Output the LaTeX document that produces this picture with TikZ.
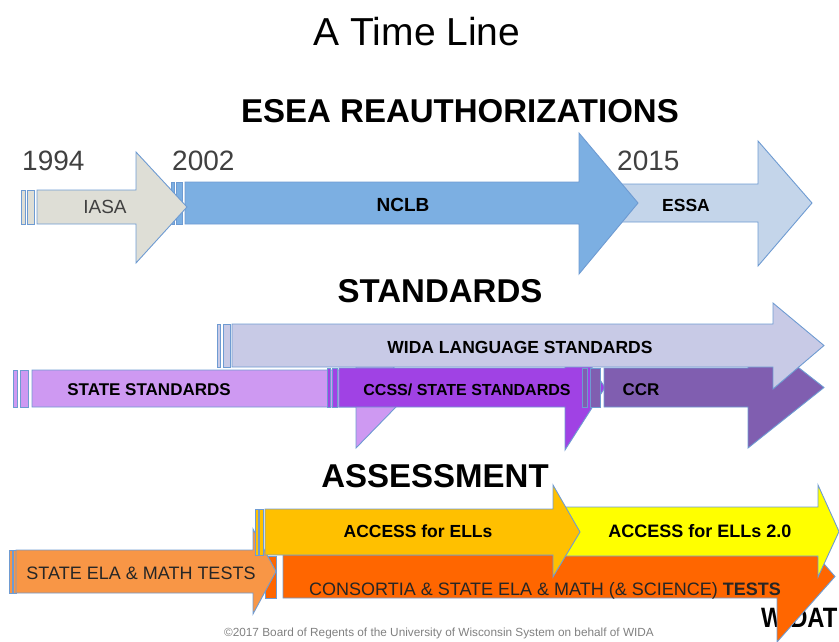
\documentclass[tikz,border=0pt]{standalone}
\usepackage{fontspec}
\setmainfont{Liberation Sans}
\begin{document}
\definecolor{edgeblue}{RGB}{110,155,210}
\definecolor{iasa}{RGB}{222,222,214}
\definecolor{nclb}{RGB}{124,175,226}
\definecolor{essa}{RGB}{196,213,234}
\definecolor{wida}{RGB}{200,202,230}
\definecolor{statestd}{RGB}{206,153,242}
\definecolor{ccss}{RGB}{160,66,228}
\definecolor{ccr}{RGB}{128,94,176}
\definecolor{stateela}{RGB}{248,150,70}
\definecolor{consortia}{RGB}{255,102,0}
\definecolor{access}{RGB}{255,192,0}
\definecolor{accesstwo}{RGB}{255,255,0}
\definecolor{yeargray}{RGB}{64,64,64}
\definecolor{notegray}{RGB}{128,128,128}
% block arrow: fill, shaft start x, head start x, tip x,
% shaft top y, shaft bottom y, head top y, head bottom y
\newcommand\blockarrow[8]{%
  \path[arrowshape, fill=#1] (#2,#5) -- (#3,#5) -- (#3,#7) -- (#4,{(#5+#6)/2})
    -- (#3,#8) -- (#3,#6) -- (#2,#6) -- cycle;}
% thin start marker: fill, left x, right x, top y, bottom y
\newcommand\startbar[5]{%
  \path[arrowshape, fill=#1] (#2,#4) rectangle (#3,#5);}
\begin{tikzpicture}[x=1pt, y=-1pt,
  arrowshape/.style={draw=edgeblue, line width=0.9pt, line join=miter},
  heading/.style={font=\fontsize{33}{40}\selectfont\bfseries, anchor=base, inner sep=0pt},
  year/.style={font=\fontsize{28}{34}\selectfont, text=yeargray, anchor=base west, inner sep=0pt},
  lbl/.style={font=\fontsize{17.5}{21}\selectfont\bfseries, anchor=base, inner sep=0pt},
  plainlbl/.style={font=\fontsize{18}{22}\selectfont, anchor=base, inner sep=0pt, text=black!85}]
\useasboundingbox (0,0) rectangle (839,641);
\clip (0,0) rectangle (839,641);

% titles
\node[anchor=base, inner sep=0pt, font=\fontsize{39}{47}\selectfont] (title) at (417,45) {A Time Line};
\node[heading] (esea) at (460,122) {ESEA REAUTHORIZATIONS};
\node[heading] (std) at (440,302) {STANDARDS};
\node[heading] (assess) at (435,487) {ASSESSMENT};

% years
\node[year] (y1994) at (22,170) {1994};
\node[year] (y2002) at (172,170) {2002};
\node[year] (y2015) at (617,170) {2015};

% ESEA reauthorizations
\blockarrow{essa}{600}{758}{812}{184}{222}{141}{266}
\startbar{nclb}{171}{174}{182}{224}
\startbar{nclb}{176}{182}{182}{224}
\blockarrow{nclb}{185}{579}{638}{182}{224}{133}{274}
\startbar{iasa}{21}{25}{190}{224}
\startbar{iasa}{27}{34}{190}{224}
\blockarrow{iasa}{37}{136}{187}{190}{224}{152}{263}
\node[plainlbl, font=\fontsize{19}{23}\selectfont, text=yeargray] (liasa) at (105,213) {IASA};
\node[lbl, font=\fontsize{19}{23}\selectfont\bfseries] (lnclb) at (403,211) {NCLB};
\node[lbl] (lessa) at (686,211) {ESSA};

% standards
\startbar{statestd}{13}{17}{370}{407}
\startbar{statestd}{20}{28}{370}{407}
\blockarrow{statestd}{32}{356}{414}{370}{407}{328}{448}
\startbar{ccss}{327}{330}{368}{407}
\startbar{ccss}{332}{337}{368}{407}
\blockarrow{ccss}{339}{565}{605}{368}{407}{326}{450}
\startbar{ccr}{582}{587}{368}{407}
\startbar{ccr}{590}{600}{368}{407}
\blockarrow{ccr}{604}{748}{824}{368}{407}{328}{448}
\startbar{wida}{217}{220}{324}{367}
\startbar{wida}{223}{230}{324}{367}
\blockarrow{wida}{232}{773}{824}{324}{367}{303}{389}
\node[lbl] (lwida) at (520,353) {WIDA LANGUAGE STANDARDS};
\node[lbl, font=\fontsize{17}{21}\selectfont\bfseries] (lstate) at (149,395) {STATE STANDARDS};
\node[lbl, font=\fontsize{16}{20}\selectfont\bfseries] (lccss) at (467,395) {CCSS/ STATE STANDARDS};
\node[lbl, font=\fontsize{17}{21}\selectfont\bfseries] (lccr) at (641,395) {CCR};

% assessment
\node[anchor=base west, inner sep=0pt, font=\fontsize{28}{34}\selectfont\bfseries] (wdat) at (761,627)
  {\scalebox{0.85}[1]{WIDAT}};
\startbar{consortia}{265}{276}{556}{598}
\blockarrow{consortia}{283}{777}{835}{555}{598}{510}{642}
\startbar{stateela}{9}{12}{550}{593}
\startbar{stateela}{13}{16}{550}{593}
\blockarrow{stateela}{16}{253}{276}{550}{593}{529}{614}
\blockarrow{accesstwo}{560}{818}{839}{507}{556}{485}{577}
\startbar{access}{255}{258}{509}{555}
\startbar{access}{259}{263}{509}{555}
\blockarrow{access}{265}{553}{580}{509}{555}{485}{577}
\node[lbl] (laccess) at (418,537) {ACCESS for ELLs};
\node[lbl, font=\fontsize{18}{22}\selectfont\bfseries] (laccesstwo) at (700,537) {ACCESS for ELLs 2.0};
\node[plainlbl] (lstateela) at (141,579) {STATE ELA \& MATH TESTS};
\node[plainlbl] (lconsortia) at (545,595) {CONSORTIA \& STATE ELA \& MATH (\& SCIENCE) \textbf{TESTS}};

% footer
\node[anchor=base, inner sep=0pt, font=\fontsize{11.8}{14}\selectfont, text=notegray] (note) at (439,636)
  {\textcopyright2017 Board of Regents of the University of Wisconsin System on behalf of WIDA};
\end{tikzpicture}
\end{document}
